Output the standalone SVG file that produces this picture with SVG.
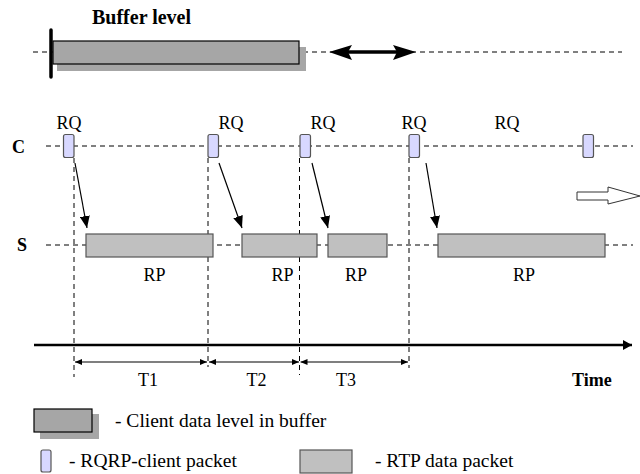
<svg xmlns="http://www.w3.org/2000/svg" width="640" height="474" viewBox="0 0 640 474" font-family="'Liberation Serif', 'DejaVu Serif', 'Times New Roman', serif">
<style>
text{font-family:'Liberation Serif','DejaVu Serif','Times New Roman',serif;fill:#000}
.lbl{font-size:18px}
.leg{font-size:19.5px}
.b{font-weight:bold}
.dash{stroke:#000;stroke-width:1;stroke-dasharray:5 4;fill:none}
.rq{fill:#d8d8ff;stroke:#555;stroke-width:1.2}
.rp{fill:#c0c0c0;stroke:#555;stroke-width:1.2}
.buf{fill:#a6a6a6;stroke:#000;stroke-width:1.2}
.shadow{fill:#a6a6a6;stroke:none}
.arr{stroke:#000;stroke-width:1.2;fill:none}
</style>
<defs>
<marker id="ah" viewBox="0 0 12 10" refX="12" refY="5" markerWidth="12" markerHeight="10" markerUnits="userSpaceOnUse" orient="auto">
<path d="M0,0 L12,5 L0,10 Z" fill="#000"/>
</marker>
<marker id="sh" viewBox="0 0 7 6" refX="7" refY="3" markerWidth="7" markerHeight="6" markerUnits="userSpaceOnUse" orient="auto-start-reverse">
<path d="M0,0 L7,3 L0,6 Z" fill="#000"/>
</marker>
<marker id="th" viewBox="0 0 9 10" refX="9" refY="5" markerWidth="9" markerHeight="10" markerUnits="userSpaceOnUse" orient="auto">
<path d="M0,0 L9,5 L0,10 Z" fill="#000"/>
</marker>
</defs>

<g id="buffer-level">
<text class="b" x="92" y="24" font-size="20">Buffer level</text>
<line class="dash" x1="33" y1="52" x2="622" y2="52"/>
<rect class="shadow" x="57" y="47" width="249" height="24"/>
<rect class="buf" x="53" y="41" width="246" height="23"/>
<line x1="51" y1="30" x2="51" y2="77" stroke="#000" stroke-width="3.5" stroke-linecap="round"/>
<line x1="347" y1="52" x2="398" y2="52" stroke="#000" stroke-width="3.5"/>
<polygon points="329,52 352,45 348,52 352,60" fill="#000"/>
<polygon points="416,52 393,45 397,52 393,60" fill="#000"/>
</g>

<g id="timelines">
<text class="lbl b" x="12" y="153">C</text>
<text class="lbl b" x="17" y="251">S</text>
<line class="dash" x1="46" y1="146" x2="633" y2="146"/>
<line class="dash" x1="46" y1="245" x2="633" y2="245"/>
</g>

<g id="connectors">
<line class="dash" x1="74" y1="158" x2="74" y2="377"/>
<line class="dash" x1="208" y1="158" x2="208" y2="367"/>
<line class="dash" x1="299.5" y1="158" x2="299.5" y2="375"/>
<line class="dash" x1="409" y1="158" x2="409" y2="368"/>
<line class="arr" x1="75" y1="163" x2="87" y2="228" marker-end="url(#ah)"/>
<line class="arr" x1="219" y1="163" x2="242" y2="228" marker-end="url(#ah)"/>
<line class="arr" x1="312" y1="163" x2="328" y2="228" marker-end="url(#ah)"/>
<line class="arr" x1="426" y1="163" x2="437" y2="228" marker-end="url(#ah)"/>
<line x1="34" y1="345" x2="632" y2="345" stroke="#000" stroke-width="2.5" marker-end="url(#th)"/>
<line class="arr" x1="75" y1="362" x2="207" y2="362" marker-start="url(#sh)" marker-end="url(#sh)"/>
<line class="arr" x1="209" y1="362" x2="299" y2="362" marker-start="url(#sh)" marker-end="url(#sh)"/>
<line class="arr" x1="300.5" y1="362" x2="408" y2="362" marker-start="url(#sh)" marker-end="url(#sh)"/>
</g>

<g id="rq1"><rect class="rq" x="63.5" y="134.5" width="10.5" height="23" rx="2"/><text class="lbl" x="69" y="129" text-anchor="middle">RQ</text></g>
<g id="rq2"><rect class="rq" x="208" y="134.5" width="10.5" height="23" rx="2"/><text class="lbl" x="231" y="129" text-anchor="middle">RQ</text></g>
<g id="rq3"><rect class="rq" x="300" y="134.5" width="10.5" height="23" rx="2"/><text class="lbl" x="323" y="129" text-anchor="middle">RQ</text></g>
<g id="rq4"><rect class="rq" x="409" y="134.5" width="10.5" height="23" rx="2"/><text class="lbl" x="414" y="129" text-anchor="middle">RQ</text></g>
<g id="rq5"><rect class="rq" x="583" y="134.5" width="10.5" height="23" rx="2"/><text class="lbl" x="507" y="129" text-anchor="middle">RQ</text></g>

<g id="rp1"><rect class="rp" x="86" y="234" width="127" height="23"/><text class="lbl" x="154.5" y="281" text-anchor="middle">RP</text></g>
<g id="rp2"><rect class="rp" x="242" y="234" width="75" height="23"/><text class="lbl" x="282.5" y="281" text-anchor="middle">RP</text></g>
<g id="rp3"><rect class="rp" x="328" y="234" width="59" height="23"/><text class="lbl" x="356" y="281" text-anchor="middle">RP</text></g>
<g id="rp4"><rect class="rp" x="438" y="234" width="167" height="23"/><text class="lbl" x="524" y="281" text-anchor="middle">RP</text></g>

<g id="hollow-arrow">
<polygon points="577,192 608,192 608,187 640,196 608,204 608,200 577,200" fill="#fff" stroke="#333" stroke-width="1"/>
</g>

<g id="time-labels">
<text class="lbl" x="148" y="386" text-anchor="middle">T1</text>
<text class="lbl" x="256.5" y="386" text-anchor="middle">T2</text>
<text class="lbl" x="346" y="386" text-anchor="middle">T3</text>
<text class="lbl b" x="572" y="386">Time</text>
</g>

<g id="legend">
<rect class="shadow" x="40" y="414" width="59" height="25"/>
<rect class="buf" x="34" y="409" width="58" height="23" stroke="#333"/>
<text class="leg" x="115" y="427">- Client data level in buffer</text>
<rect class="rq" x="41" y="450" width="10" height="22" rx="2"/>
<text class="leg" x="69" y="467">- RQRP-client packet</text>
<rect class="rp" x="300" y="450" width="52" height="23"/>
<text class="leg" x="375" y="467">- RTP data packet</text>
</g>
</svg>
